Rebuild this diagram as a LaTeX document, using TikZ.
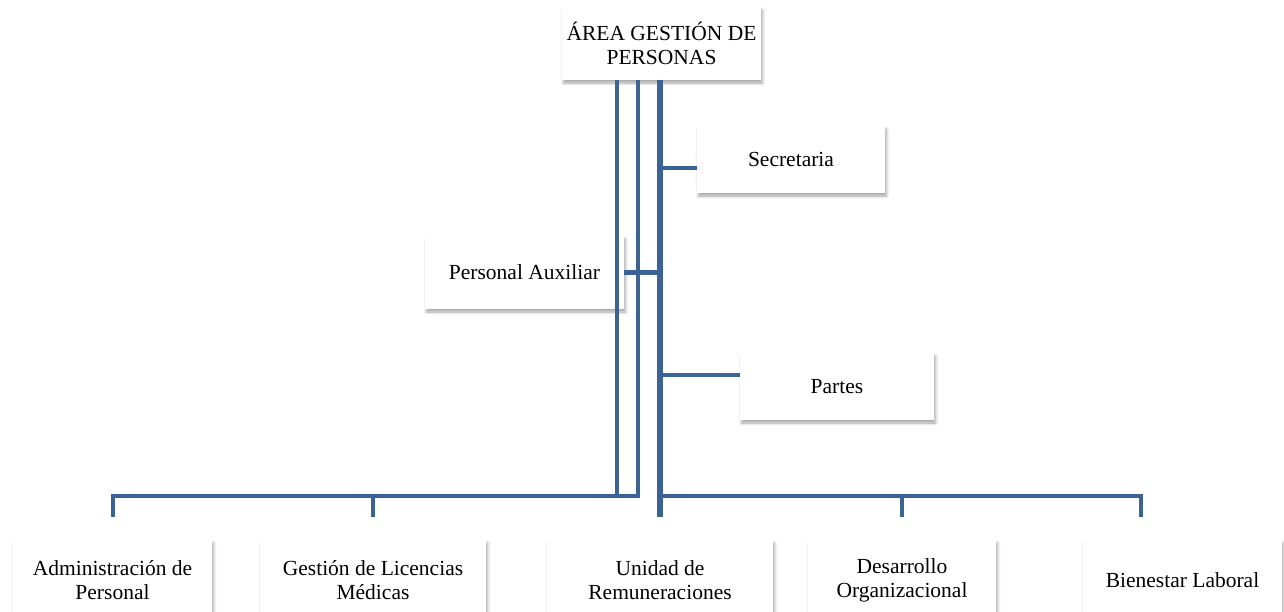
\documentclass[tikz,border=0pt]{standalone}
\usepackage{fontspec}
\setmainfont{Liberation Serif}
\usetikzlibrary{shadows.blur}
\definecolor{lineblue}{RGB}{59,99,150}
\begin{document}
\begin{tikzpicture}[x=1pt,y=-1pt,
  box/.style={fill=white, inner sep=0pt, align=center,
    font=\fontsize{21.5}{24}\selectfont,
    blur shadow={shadow xshift=1.5pt, shadow yshift=-3pt, shadow blur radius=3pt, shadow opacity=35}},
  conn/.style={draw=lineblue, line width=4.5pt},
  trunk/.style={draw=lineblue, line width=6.5pt}]
\useasboundingbox (0,0) rectangle (1284,611);
% drop ends
\coordinate (dropA) at (113,517);
\coordinate (dropB) at (373,517);
\coordinate (dropC) at (660,517);
\coordinate (dropD) at (902,517);
\coordinate (dropE) at (1141,517);
% boxes
\node[box, minimum width=199pt, minimum height=73pt] (top) at (661.5,43.5) {ÁREA GESTIÓN DE\\PERSONAS};
\node[box, minimum width=188pt, minimum height=67pt] (sec) at (791,159.5) {Secretaria};
\node[box, minimum width=199pt, minimum height=73pt] (aux) at (524.5,272.5) {Personal Auxiliar};
\node[box, minimum width=194pt, minimum height=67pt] (partes) at (837,386.5) {Partes};
\node[box, minimum width=199pt, minimum height=80pt] (b1) at (112.5,580) {Administración de\\Personal};
\node[box, minimum width=226pt, minimum height=80pt] (b2) at (373,580) {Gestión de Licencias\\Médicas};
\node[box, minimum width=226pt, minimum height=80pt] (b3) at (660,580) {Unidad de\\Remuneraciones};
\node[box, minimum width=188pt, minimum height=80pt] (b4) at (902,580) {Desarrollo\\Organizacional};
\node[box, minimum width=199pt, minimum height=80pt] (b5) at (1182.5,580) {Bienestar Laboral};
% connectors
\draw[conn] ([xshift=-44.5pt]top.south) -- ++(0,416) -| (dropA);
\draw[conn] (dropB) -- ++(0,-21);
\draw[conn] ([xshift=-23.5pt]top.south) -- ++(0,416) -- ++(-23.25,0);
\draw[trunk] ([xshift=-1.5pt]top.south) -- (dropC);
\path ([yshift=-8.5pt]sec.west) coordinate (secin);
\draw[conn] (secin) -- (secin -| dropC);
\draw[conn] (aux.east) -- (aux.east -| dropC);
\path ([yshift=11.5pt]partes.west) coordinate (partin);
\draw[conn] (partin) -- (partin -| dropC);
\draw[conn] ([yshift=21pt]dropC) -| (dropE);
\draw[conn] (dropD) -- ++(0,-21);
\end{tikzpicture}
\end{document}
